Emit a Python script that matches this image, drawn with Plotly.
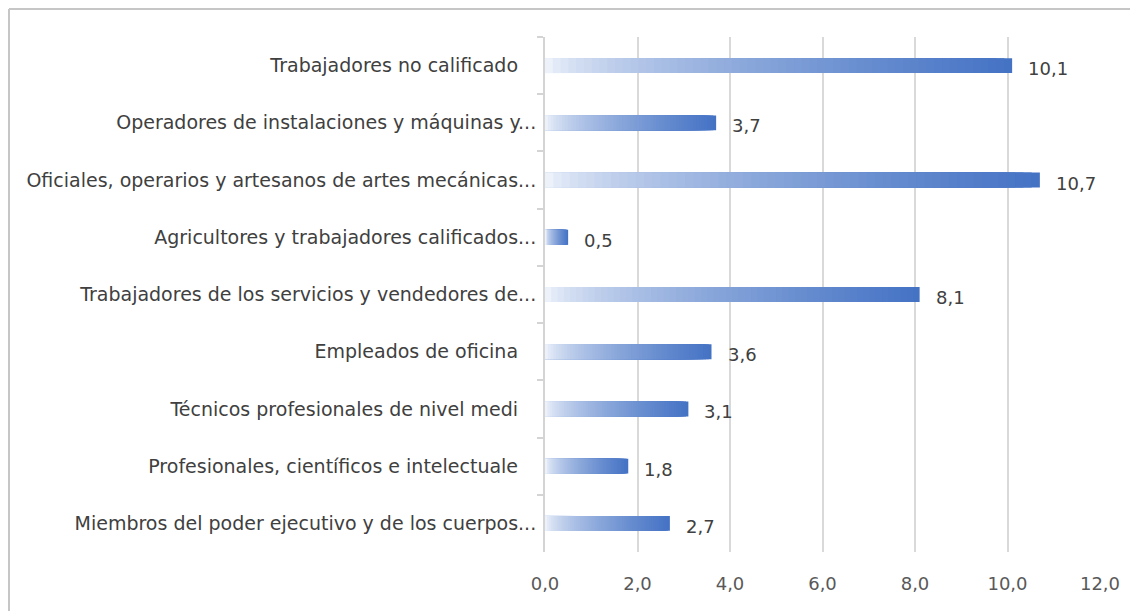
import plotly.graph_objects as go

categories = [
    "Trabajadores no calificado",
    "Operadores de instalaciones y máquinas y...",
    "Oficiales, operarios y artesanos de artes mecánicas...",
    "Agricultores y trabajadores calificados...",
    "Trabajadores de los servicios y vendedores de...",
    "Empleados de oficina",
    "Técnicos profesionales de nivel medi",
    "Profesionales, científicos e intelectuale",
    "Miembros del poder ejecutivo y de los cuerpos...",
]
values = [10.1, 3.7, 10.7, 0.5, 8.1, 3.6, 3.1, 1.8, 2.7]
tick_vals = [0, 2, 4, 6, 8, 10, 12]

# display labels: non-ellipsis labels carry a trailing gap like the original
labels = [c if c.endswith("...") else c + "\u00a0\u00a0\u00a0" for c in categories]

# the page body adds an 8px offset, so the figure is sized to compensate
W, H = 1130, 603
ML, MR, MT, MB = 537, 38, 29, 59
pw, ph = W - ML - MR, H - MT - MB

FONT = "DejaVu Sans"
end_rgb = (68, 114, 196)
start_rgb = (246, 249, 253)
N = 60

fig = go.Figure()
# gradient: draw from longest to shortest, each a fraction of the bar
for k in range(N, 0, -1):
    f = k / N
    t = ((k - 0.5) / N) ** 0.6
    col = tuple(round(start_rgb[i] + (end_rgb[i] - start_rgb[i]) * t) for i in range(3))
    fig.add_trace(go.Bar(
        x=[v * f for v in values], y=labels, orientation="h",
        marker=dict(color="rgb(%d,%d,%d)" % col, line=dict(width=0)),
        showlegend=False, hoverinfo="skip",
    ))

for v, lab in zip(values, labels):
    fig.add_annotation(
        x=v, y=lab, text=("%.1f" % v).replace(".", ","), showarrow=False,
        xanchor="left", xshift=14, yshift=-3,
        font=dict(size=18, color="#404040", family=FONT),
    )

# outer frame (left and top edges visible)
fx = (1 - ML) / pw
fy = 1 + (MT - 1) / ph
fig.add_shape(type="line", xref="paper", yref="paper", x0=fx, x1=fx, y0=-0.2, y1=fy,
              line=dict(color="#c6c6c6", width=2))
fig.add_shape(type="line", xref="paper", yref="paper", x0=fx, x1=1.2, y0=fy, y1=fy,
              line=dict(color="#c6c6c6", width=2))

fig.update_layout(
    width=W, height=H,
    margin=dict(l=ML, r=MR, t=MT, b=MB, pad=0),
    barmode="overlay", bargap=0.74,
    plot_bgcolor="white", paper_bgcolor="white",
    separators=",.",
    font=dict(family=FONT, size=18, color="#404040"),
    xaxis=dict(
        range=[0, 12], tickvals=tick_vals, tickformat=".1f",
        showgrid=True, gridcolor="#d9d9d9", gridwidth=2,
        zeroline=False, showline=False, ticks="",
        ticklabelstandoff=19, layer="above traces",
        tickfont=dict(size=18, color="#595959", family=FONT),
    ),
    yaxis=dict(
        autorange="reversed", showline=True, linecolor="#d4d4d4", linewidth=2,
        ticks="outside", tickson="boundaries", ticklen=6, tickcolor="#d4d4d4", tickwidth=2,
        ticklabelstandoff=3,
        showgrid=False, tickfont=dict(size=19, color="#404040", family=FONT),
    ),
)

fig.write_html("out.html")
